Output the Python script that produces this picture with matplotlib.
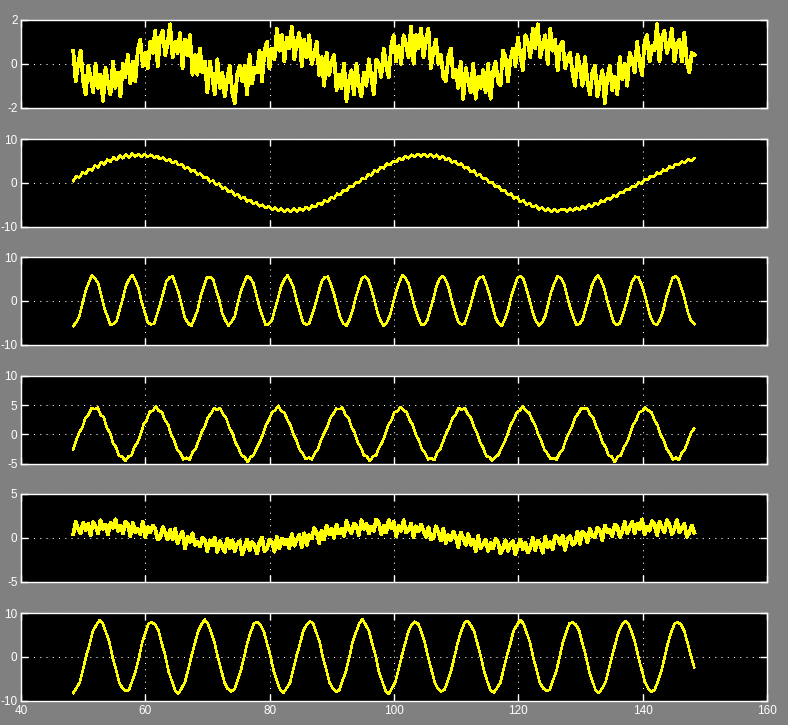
import numpy as np
import matplotlib
matplotlib.use("Agg")
import matplotlib.pyplot as plt
from matplotlib import font_manager

# time span covered by every trace (seconds)
T_START, T_END = 48.4, 148.3
x_ticks = [40, 60, 80, 100, 120, 140, 160]
y_ticks = [[-2, 0, 2], [-10, 0, 10], [-10, 0, 10], [-5, 0, 5, 10], [-5, 0, 5], [-10, 0, 10]]

# scope 1: slow wave buried in heavy noise
sig1 = [0.6, -0.8, 0.0, 0.6, -0.8, -1.4, -0.1, -0.6, -1.3, 0.0, -1.1, -0.5, -1.7, -0.2, -0.9, -1.4, 0.1, -1.1, -0.4, -1.5,
        0.0, -0.6, 0.4, -0.9, 0.1, -0.8, 0.6, 1.1, -0.1, 0.5, -0.2, 1.0, 0.5, 1.5, -0.1, 1.2, 1.5, 0.4, 0.9, 1.8,
        0.3, 1.0, 0.5, 1.4, -0.2, 1.1, 0.4, 1.3, -0.5, 0.4,
        -0.5, 0.7, -0.4, 0.1, -1.3, 0.1, -0.6, -1.4, 0.2, -1.1, -0.4, -1.5, -0.7, -0.1, -1.3, -1.8, -0.5, -0.1, -0.8, -0.1,
        -1.4, 0.4, -0.9, -0.2, -0.4, 0.6, -0.8, 0.6, 1.0, -0.2, 0.7, 0.2, 1.6, 0.6, 1.3, 0.1, 1.2, 0.7, 1.7, 0.2,
        1.0, 1.4, -0.1, 1.1, 0.3, 1.3, 0.0, 0.4, 1.0, -0.5,
        0.3, -1.0, 0.5, -0.5, 0.1, 0.4, -1.2, -0.5, -1.1, 0.0, -1.7, -0.8, -0.3, -1.4, 0.0, -1.0, -1.5, -0.4, -1.0, 0.2,
        -0.6, -1.4, 0.2, 0.0, -0.6, 0.7, -0.1, -0.6, 0.8, 1.3, 0.1, 0.8, 0.0, 1.3, 0.9, 0.3, 1.7, 0.0, 1.3, 0.7,
        1.6, 0.3, 1.1, 1.6, -0.2, 0.6, 1.1, 0.0, 0.4, -0.6,
        -0.8, 0.3, 0.7, -0.6, -0.3, -1.1, 0.1, -1.6, -0.2, -0.8, -1.3, 0.0, -1.6, -0.6, -1.1, -0.3, -1.3, 0.0, -1.6, -0.4,
        0.1, -0.8, -1.0, 0.6, 0.3, -0.8, 0.2, 0.7, -0.1, 1.2, 0.4, -0.3, 1.3, 1.0, 0.3, 1.6, 0.7, 1.8, 0.3, 0.9,
        1.3, 0.0, 1.6, 0.6, 1.1, -0.3, 0.8, 1.0, -0.2, 0.2,
        0.5, -0.4, -1.0, 0.4, -0.2, -1.0, 0.3, -0.8, -1.4, -0.4, -0.1, -1.5, -0.9, -0.3, -1.8, -0.6, -0.1, -1.2, -0.6, -1.4,
        0.3, -0.7, 0.0, -1.0, 0.5, 0.2, -0.4, 1.0, 0.0, -0.5, 1.0, 1.3, 0.1, 0.8, 0.6, 1.8, 0.1, 1.2, 1.5, 0.5,
        0.9, 1.6, 0.1, 0.9, 1.1, 0.1, 1.4, 0.1, -0.4, 0.5,
        0.4]

# scope 2: long period sine, light noise
sig2 = [0.4, 1.5, 1.2, 2.4, 2.0, 3.2, 2.8, 4.0, 3.5, 4.7, 4.2, 5.3, 4.8, 5.8, 5.2, 6.2, 5.6, 6.5, 5.8, 6.7, 6.0, 6.6,
        6.0, 6.6, 5.9, 6.4, 5.7, 6.1, 5.4, 5.8, 5.0, 5.4, 4.5, 4.9, 4.0, 4.2, 3.3, 3.5, 2.6, 2.9, 1.9, 2.1,
        1.1, 1.3, 0.3, 0.5, -0.5, -0.2, -1.3, -1.1, -2.1, -1.8, -2.9, -2.6, -3.6, -3.2, -4.3, -3.9, -4.8, -4.5,
        -5.4, -5.0, -5.8, -5.4, -6.2, -5.7, -6.4, -5.9, -6.6, -6.0, -6.6,
        -5.9, -6.6, -5.8, -6.4, -5.5, -6.1, -5.2, -5.6, -4.6, -5.0, -4.0, -4.4, -3.3, -3.6, -2.5, -2.8, -1.7, -1.9,
        -0.8, -1.0, 0.1, -0.1, 1.0, 0.8, 1.9, 1.7, 2.8, 2.5, 3.6, 3.3, 4.4, 4.0, 5.0, 4.7, 5.6, 5.2, 6.1, 5.6,
        6.4, 5.9, 6.6, 6.0, 6.6,
        5.9, 6.6, 5.8, 6.4, 5.5, 6.1, 5.2, 5.6, 4.6, 5.0, 4.0, 4.4, 3.3, 3.6, 2.5, 2.8, 1.7, 1.9, 0.8, 1.0,
        -0.1, 0.1, -1.0, -0.8, -1.9, -1.7, -2.8, -2.5, -3.6, -3.3, -4.4, -4.0, -5.0, -4.7, -5.6, -5.2, -6.1, -5.6,
        -6.4, -5.9, -6.6, -6.0, -6.6, -6.1,
        -6.0, -6.6, -5.9, -6.4, -5.7, -6.2, -5.4, -5.9, -5.0, -5.5, -4.6, -5.0, -4.1, -4.4, -3.5, -3.8, -2.9, -3.2,
        -2.2, -2.4, -1.5, -1.7, -0.7, -1.0, 0.1, -0.2, 0.8, 0.6, 1.6, 1.3, 2.3, 2.0, 3.0, 2.7, 3.7, 3.4, 4.3, 4.0,
        4.9, 4.5, 5.4, 5.0, 5.6]

# scope 3: fast sine
sig3 = [-5.8, -4.9, -3.5, -0.5, 2.2, 4.1, 5.8, 5.1, 4.1, 1.2, -1.6, -3.6, -5.5, -5.3, -4.6, -1.9, 0.5, 3.5, 4.9, 5.9, 4.6, 2.9, -0.2, -2.5, -4.9,
        -5.4, -5.3, -3.1, -0.9, 1.8, 4.5, 5.3, 5.6, 3.7, 1.6, -1.2, -4.0, -5.1, -5.8, -4.1, -2.3, 0.9, 3.1, 5.3, 5.4, 5.0, 2.5, 0.3, -2.9, -4.5,
        -5.7, -4.8, -3.6, -0.6, 2.3, 4.0, 5.7, 5.2, 4.0, 1.3, -1.5, -3.6, -5.6, -5.3, -4.5, -1.8, 0.6, 3.4, 4.8, 5.8, 4.6, 2.9, -0.1, -2.5, -4.9,
        -5.5, -5.2, -3.0, -0.8, 1.9, 4.4, 5.4, 5.5, 3.6, 1.5, -1.3, -3.9, -5.2, -5.7, -4.2, -2.2, 0.8, 3.0, 5.2, 5.5, 4.9, 2.6, 0.2, -2.8, -4.6,
        -5.8, -4.9, -3.4, -0.5, 2.1, 4.2, 5.9, 5.2, 3.9, 1.2, -1.6, -3.7, -5.4, -5.4, -4.5, -2.0, 0.5, 3.4, 5.0, 5.7, 4.7, 2.8, -0.2, -2.6, -4.8,
        -5.4, -5.3, -3.2, -0.9, 1.8, 4.4, 5.4, 5.5, 3.8, 1.6, -1.2, -3.9, -5.2, -5.8, -4.2, -2.2, 0.8, 3.1, 5.2, 5.6, 4.9, 2.6, 0.1, -2.8, -4.6,
        -5.7, -5.0, -3.5, -0.6, 2.2, 4.1, 5.6, 5.2, 4.0, 1.3, -1.5, -3.6, -5.5, -5.3, -4.4, -1.9, 0.6, 3.4, 4.9, 5.8, 4.7, 2.8, -0.1, -2.5, -4.8,
        -5.5, -5.2, -3.2, -0.8, 1.9, 4.4, 5.5, 5.4, 3.7, 1.5, -1.3, -3.9, -5.2, -5.6, -4.2, -2.2, 0.8, 3.1, 5.2, 5.6, 4.8, 2.6, 0.2, -2.8, -4.6,
        -5.3]

# scope 4: medium sine
sig4 = [-2.6, -1.0, 0.3, 1.2, 2.8, 3.4, 4.5, 4.3, 4.6, 3.3, 2.9, 1.1, 0.3, -1.5, -2.2, -3.7, -3.8, -4.6, -3.8, -3.6,
        -2.2, -1.4, -0.1, 1.7, 2.4, 3.9, 4.0, 4.8, 4.0, 3.8, 2.4, 1.7, -0.1, -1.0, -2.7, -3.2, -4.3, -4.0, -4.4, -3.1,
        -2.5, -1.1, 0.4, 1.3, 2.9, 3.5, 4.5, 4.2, 4.5, 3.4, 2.8, 1.2, 0.2, -1.4, -2.3, -3.6, -3.9, -4.7, -3.9, -3.5,
        -2.3, -1.3, 0.0, 1.6, 2.5, 3.8, 4.1, 4.9, 4.0, 3.7, 2.5, 1.6, 0.0, -1.1, -2.6, -3.3, -4.2, -4.0, -4.3, -3.2,
        -2.6, -1.0, 0.2, 1.2, 2.8, 3.5, 4.4, 4.3, 4.6, 3.3, 2.8, 1.2, 0.3, -1.4, -2.2, -3.6, -3.8, -4.6, -3.8, -3.6,
        -2.2, -1.4, 0.0, 1.6, 2.4, 3.8, 4.0, 4.7, 4.1, 3.8, 2.4, 1.6, -0.1, -1.0, -2.6, -3.2, -4.3, -4.1, -4.4, -3.1,
        -2.5, -1.1, 0.3, 1.3, 2.8, 3.4, 4.5, 4.2, 4.5, 3.4, 2.8, 1.2, 0.2, -1.4, -2.3, -3.7, -3.9, -4.5, -3.9, -3.5,
        -2.3, -1.3, 0.0, 1.6, 2.5, 3.8, 4.1, 4.8, 4.0, 3.7, 2.5, 1.6, 0.0, -1.1, -2.6, -3.3, -4.2, -4.1, -4.3, -3.2,
        -2.6, -1.0, 0.2, 1.2, 2.8, 3.5, 4.4, 4.4, 4.5, 3.3, 2.8, 1.2, 0.3, -1.4, -2.2, -3.6, -3.8, -4.7, -3.8, -3.6,
        -2.2, -1.4, 0.0, 1.6, 2.4, 3.8, 4.0, 4.6, 4.1, 3.8, 2.4, 1.6, -0.1, -1.0, -2.6, -3.2, -4.3, -4.0, -4.4, -3.1,
        -2.5, -1.1, 0.3, 1.0]

# scope 5: slow wave with heavy noise
sig5 = [0.4, 1.8, 1.0, 0.5, 1.7, 0.9, 1.6, 0.3, 1.8, 1.3, 0.5, 2.0, 1.0, 1.5, 0.4, 1.7, 1.1, 2.1, 0.8, 1.4,
        0.5, 1.8, 1.5, 0.2, 1.7, 0.6, 1.0, 0.4, 1.8, 0.1, 1.2, 0.6, 1.4, 1.0, -0.2, 0.0, 1.2, 0.6, -0.2, 0.9,
        -0.2, 1.0, -0.6, 0.1, 0.7, -1.2, 0.1, -0.5, 0.5, -0.8,
        -0.5, -1.0, 0.0, -0.3, -1.5, -0.3, -0.9, 0.0, -1.6, -0.4, -1.0, -1.6, -0.1, -1.2, -0.3, -1.5, -0.7, -0.4, -1.9, -1.1,
        -0.2, -1.4, -0.5, -0.9, -1.8, -0.5, 0.0, -1.5, -1.2, -0.2, -0.5, -1.6, 0.1, -1.2, -0.1, -0.7, -0.2, -1.2, 0.4, -0.9,
        -0.2, 0.3, -1.1, 0.5, -0.8, 0.3, -0.1, 1.1, 0.6, -0.6,
        0.8, -0.2, 1.4, 0.4, 1.0, 0.0, 1.5, 0.5, 1.0, 0.2, 1.9, 1.0, 0.5, 1.6, 1.3, 0.3, 2.0, 1.0, 1.6, 0.5,
        1.3, 0.8, 2.1, 1.7, 0.4, 1.4, 0.6, 2.0, 1.1, 1.8, 0.2, 1.4, 0.8, 2.0, 0.6, 0.9, 1.6, 0.1, 1.3, 0.7,
        1.5, 0.8, 0.1, 1.2, -0.2, 0.0, 1.3, 0.6, -0.3, 1.0,
        -0.6, 0.3, -0.3, 0.7, 0.1, -1.1, 0.6, 0.0, -0.8, 0.4, -0.8, -0.2, -1.5, 0.2, -1.2, -0.7, -0.2, -1.5, -0.6, -1.2,
        -0.1, -0.5, -1.8, -1.2, -0.3, -1.5, -0.7, -0.4, -1.9, -1.0, -0.2, -1.3, -0.6, -1.7, -1.1, 0.0, -1.4, -0.3, -0.8, -1.7,
        0.1, -1.1, -0.5, -1.3, 0.2, 0.0, -0.7, 0.2, -1.4, -0.2,
        0.2, -0.8, -0.5, 0.7, -0.7, 0.7, 0.4, -0.5, 1.0, 0.2, 0.1, 1.1, 0.8, -0.3, 1.4, 0.6, 0.9, 0.2, 1.5, 1.3,
        0.1, 0.7, 1.8, 0.5, 1.2, 1.8, 0.5, 1.6, 1.0, 2.1, 0.4, 1.3, 0.8, 1.9, 1.5, 0.3, 1.8, 1.2, 0.6, 2.0,
        1.5, 0.4, 1.0, 2.0, 0.6, 1.1, 1.6, 0.1, 0.6, 1.4,
        0.6]

# scope 6: large sine
sig6 = [-8.3, -7.1, -5.9, -2.8, 0.3, 2.9, 5.9, 7.2, 8.3, 7.6, 5.5, 3.3, -0.2, -2.9, -5.9, -7.2,
        -7.8, -7.6, -5.4, -3.3, -0.2, 3.3, 5.5, 7.7, 7.8, 7.3, 5.9, 2.9, 0.3, -3.3, -5.5, -7.7,
        -8.4, -7.2, -5.8, -2.9, 0.2, 3.0, 5.8, 7.3, 8.5, 7.5, 5.6, 3.2, -0.1, -3.0, -5.8, -7.3,
        -7.9, -7.5, -5.5, -3.2, -0.1, 3.2, 5.6, 7.6, 7.9, 7.2, 5.8, 3.0, 0.2, -3.2, -5.6, -7.6,
        -8.2, -7.1, -5.9, -2.8, 0.3, 2.9, 5.9, 7.3, 8.1, 7.7, 5.5, 3.3, -0.2, -2.9, -5.9, -7.2,
        -8.0, -7.6, -5.4, -3.3, -0.2, 3.3, 5.5, 7.5, 8.6, 7.3, 5.9, 2.9, 0.3, -3.3, -5.5, -7.7,
        -8.5, -7.2, -5.8, -2.9, 0.2, 3.0, 5.8, 7.4, 8.0, 7.5, 5.6, 3.2, -0.1, -3.0, -5.8, -7.3,
        -7.9, -7.5, -5.5, -3.2, -0.1, 3.2, 5.6, 7.7, 8.2, 7.2, 5.8, 3.0, 0.2, -3.2, -5.6, -7.6,
        -8.2, -7.1, -5.9, -2.8, 0.3, 2.9, 5.9, 7.2, 8.4, 7.6, 5.5, 3.3, -0.2, -2.9, -5.9, -7.2,
        -7.8, -7.6, -5.4, -3.3, -0.2, 3.3, 5.5, 7.6, 7.9, 7.3, 5.9, 2.9, 0.3, -3.3, -5.5, -7.7,
        -8.3, -7.2, -5.8, -2.9, 0.2, 3.0, 5.8, 7.3, 8.1, 7.5, 5.6, 3.2, -0.1, -3.0, -5.8, -7.3,
        -8.0, -7.5, -5.5, -3.2, -0.1, 3.2, 5.6, 7.6, 7.9, 7.3, 5.8, 3.0, 0.2, -2.4]

signals = [sig1, sig2, sig3, sig4, sig5, sig6]
noisy = [True, False, False, False, True, False]

# narrow face if the system has one, otherwise plain Liberation Sans a bit smaller
installed = {f.name for f in font_manager.fontManager.ttflist}
if 'Liberation Sans Narrow' in installed:
    plt.rcParams['font.family'] = ['Liberation Sans Narrow', 'DejaVu Sans']
    label_size = 9.5
else:
    plt.rcParams['font.family'] = ['Liberation Sans', 'DejaVu Sans']
    label_size = 8.5
plt.rcParams['axes.unicode_minus'] = False

W, H = 788, 725
fig = plt.figure(figsize=(W / 100, H / 100), dpi=100, facecolor='#808080')

# pixel rows of the six scope panels (top edge), all 87.5 px tall
tops = [20, 139, 257, 376, 494, 613]
left, width, height = 21, 746, 87.5

for i, (sig, yt, top) in enumerate(zip(signals, y_ticks, tops)):
    ax = fig.add_axes([left / W, 1 - (top + height) / H, width / W, height / H])
    ax.set_facecolor('black')
    t = np.linspace(T_START, T_END, len(sig))
    lw = 2.0 if noisy[i] else 1.1
    ax.plot(t, sig, color='#ffff00', lw=lw, antialiased=False)
    ax.set_xlim(40, 160)
    ax.set_ylim(yt[0], yt[-1])
    ax.set_xticks(x_ticks)
    ax.set_yticks(yt)
    ax.grid(True, color='white', linestyle=(0, (1, 5)), linewidth=0.75)
    for s in ax.spines.values():
        s.set_color('white')
        s.set_linewidth(1.0)
    ax.tick_params(direction='in', length=5, width=1, colors='white',
                   top=True, right=True, labelsize=label_size)
    ax.tick_params(axis='y', pad=2.5)
    ax.tick_params(axis='x', pad=3.5)
    if i < 5:
        ax.set_xticklabels([])

fig.savefig('out.png', dpi=100, facecolor=fig.get_facecolor())
